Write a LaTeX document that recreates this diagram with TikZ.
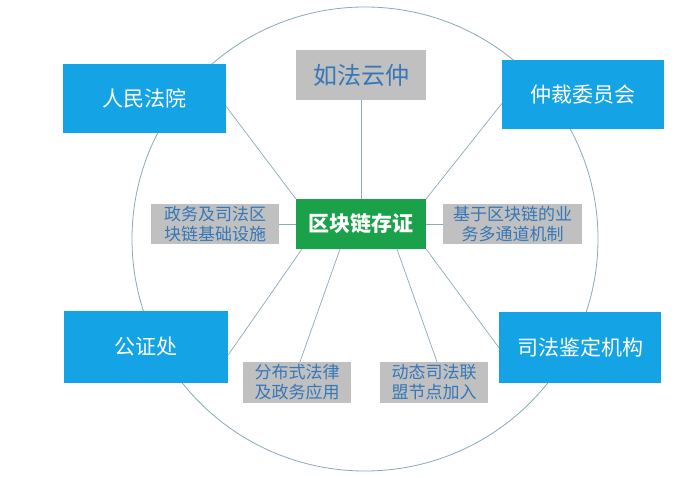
\documentclass[tikz,border=0pt]{standalone}
\usepackage{fontspec}
\newfontfamily\cjk{Noto Sans CJK SC}
\usetikzlibrary{calc}
\definecolor{boxblue}{HTML}{14A3E5}
\definecolor{boxgreen}{HTML}{1BA14A}
\definecolor{boxgrey}{HTML}{C0C0C0}
\definecolor{greytext}{HTML}{3577B8}
\definecolor{linecol}{HTML}{8AAAB8}
\begin{document}
\begin{tikzpicture}[x=1pt,y=-1pt,
  bluebox/.style={fill=boxblue,draw=none,text=white,font=\cjk\fontsize{21}{24}\selectfont,inner sep=0pt},
  greybox/.style={fill=boxgrey,draw=none,text=greytext,inner sep=0pt,align=center},
  greenbox/.style={fill=boxgreen,draw=none,text=white,font=\cjk\bfseries\fontsize{21}{24}\selectfont,inner sep=0pt},
  conn/.style={draw=linecol,line width=0.7pt}]
\useasboundingbox (0,0) rectangle (692,478);
\fill[white] (0,0) rectangle (692,478);
\draw[linecol,line width=0.8pt] (365,239) ellipse [x radius=233, y radius=232];

\node[bluebox,minimum width=163pt,minimum height=69pt] (rm) at (144.5,98.5) {人民法院};
\node[bluebox,minimum width=162pt,minimum height=69pt] (zc) at (583,94.5) {仲裁委员会};
\node[bluebox,minimum width=164pt,minimum height=72pt] (gz) at (146,347) {公证处};
\node[bluebox,minimum width=162pt,minimum height=71pt] (sj) at (580,347.5) {司法鉴定机构};
\node[greenbox,minimum width=130pt,minimum height=50pt] (core) at (361,224) {区块链存证};
\node[greybox,minimum width=130pt,minimum height=50pt,font=\cjk\fontsize{24}{28}\selectfont] (top) at (361,75) {如法云仲};
\node[greybox,minimum width=128pt,minimum height=40pt,font=\cjk\fontsize{17}{20}\selectfont] (lg) at (215,224) {政务及司法区\\块链基础设施};
\node[greybox,minimum width=139pt,minimum height=40pt,font=\cjk\fontsize{17}{20}\selectfont] (rg) at (512.5,224) {基于区块链的业\\务多通道机制};
\node[greybox,minimum width=108pt,minimum height=41pt,font=\cjk\fontsize{17}{20}\selectfont] (b1) at (297,382.5) {分布式法律\\及政务应用};
\node[greybox,minimum width=108pt,minimum height=41pt,font=\cjk\fontsize{17}{20}\selectfont] (b2) at (434,382.5) {动态司法联\\盟节点加入};

\draw[conn] (core.north) -- (top.south);
\draw[conn] (core.north west) -- ([yshift=-8pt]rm.east);
\draw[conn] (core.north east) -- ([yshift=-9pt]zc.west);
\draw[conn] (core.west) -- (lg.east);
\draw[conn] (core.east) -- (rg.west);
\draw[conn] ([xshift=6pt]core.south west) -- ([yshift=-8pt]gz.east);
\draw[conn] (core.south east) -- (sj.west);
\draw[conn] ([xshift=-21pt]core.south) -- ([xshift=3pt]b1.north);
\draw[conn] ([xshift=36pt]core.south) -- ([xshift=3pt]b2.north);
\end{tikzpicture}
\end{document}
